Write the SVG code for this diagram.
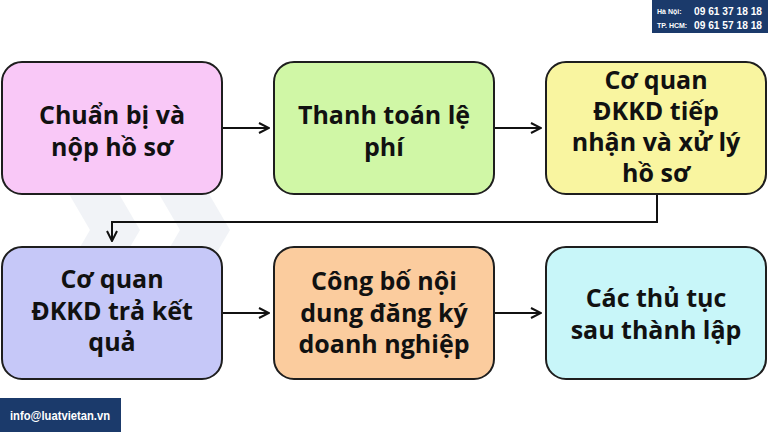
<svg xmlns="http://www.w3.org/2000/svg" width="768" height="432" viewBox="0 0 768 432">
<defs>
<style>
.box{stroke:#1e1e1e;stroke-width:2}
.t{font-family:"Open Sans","Noto Sans",sans-serif;font-weight:700;font-size:25px;fill:#111;text-anchor:middle}
.line{fill:none;stroke:#111;stroke-width:2}
.wm{fill:#e6eaf0;fill-opacity:0.55}
.badge{font-family:"Liberation Sans",sans-serif;font-weight:700;fill:#fff}
</style>
<marker id="ah" viewBox="0 0 12 12" refX="11" refY="6" markerWidth="12" markerHeight="12" markerUnits="userSpaceOnUse" orient="auto">
<path d="M1,1 L11,6 L1,11" fill="none" stroke="#111" stroke-width="2"/>
</marker>
</defs>
<rect width="768" height="432" fill="#ffffff"/>
<g id="watermark">
<polygon class="wm" points="20,110 70,110 140,230 70,350 20,350 90,230"/>
<polygon class="wm" points="110,110 160,110 230,230 160,350 110,350 180,230"/>
</g>
<g id="connectors">
<line class="line" x1="222" y1="128" x2="269" y2="128" marker-end="url(#ah)"/>
<line class="line" x1="494" y1="128" x2="541" y2="128" marker-end="url(#ah)"/>
<polyline class="line" points="657,195 657,222 112,222 112,241" marker-end="url(#ah)"/>
<line class="line" x1="222" y1="313" x2="269" y2="313" marker-end="url(#ah)"/>
<line class="line" x1="494" y1="313" x2="541" y2="313" marker-end="url(#ah)"/>
</g>
<g id="n1">
<rect class="box" x="2" y="62" width="220" height="132" rx="20" fill="#f9c8f7"/>
<text class="t" x="112" y="124">Chuẩn bị và</text>
<text class="t" x="112" y="156">nộp hồ sơ</text>
</g>
<g id="n2">
<rect class="box" x="274" y="62" width="220" height="132" rx="20" fill="#d0f7a6"/>
<text class="t" x="384" y="124">Thanh toán lệ</text>
<text class="t" x="384" y="156">phí</text>
</g>
<g id="n3">
<rect class="box" x="546" y="62" width="220" height="132" rx="20" fill="#f9f5a0"/>
<text class="t" x="656" y="89">Cơ quan</text>
<text class="t" x="656" y="120">ĐKKD tiếp</text>
<text class="t" x="656" y="151">nhận và xử lý</text>
<text class="t" x="656" y="182">hồ sơ</text>
</g>
<g id="n4">
<rect class="box" x="2" y="247" width="220" height="132" rx="20" fill="#c6c8f8"/>
<text class="t" x="112" y="288">Cơ quan</text>
<text class="t" x="112" y="320">ĐKKD trả kết</text>
<text class="t" x="112" y="351">quả</text>
</g>
<g id="n5">
<rect class="box" x="274" y="247" width="220" height="132" rx="20" fill="#fbcc9e"/>
<text class="t" x="384" y="290">Công bố nội</text>
<text class="t" x="384" y="322">dung đăng ký</text>
<text class="t" x="384" y="353">doanh nghiệp</text>
</g>
<g id="n6">
<rect class="box" x="546" y="247" width="220" height="132" rx="20" fill="#c8f6f9"/>
<text class="t" x="656" y="307">Các thủ tục</text>
<text class="t" x="656" y="339">sau thành lập</text>
</g>
<g id="hotline">
<rect x="652" y="0" width="116" height="33" fill="#1b3a6b"/>
<text class="badge" x="657" y="14" font-size="7">Hà Nội:</text>
<text class="badge" x="657" y="28" font-size="7">TP. HCM:</text>
<text class="badge" x="694" y="15" font-size="10.5" textLength="68" lengthAdjust="spacingAndGlyphs">09 61 37 18 18</text>
<text class="badge" x="694" y="29" font-size="10.5" textLength="68" lengthAdjust="spacingAndGlyphs">09 61 57 18 18</text>
</g>
<g id="email">
<rect x="0" y="398" width="121" height="34" fill="#1b3a6b"/>
<text class="badge" x="60" y="420" font-size="12" text-anchor="middle" textLength="100" lengthAdjust="spacingAndGlyphs">info@luatvietan.vn</text>
</g>
</svg>
